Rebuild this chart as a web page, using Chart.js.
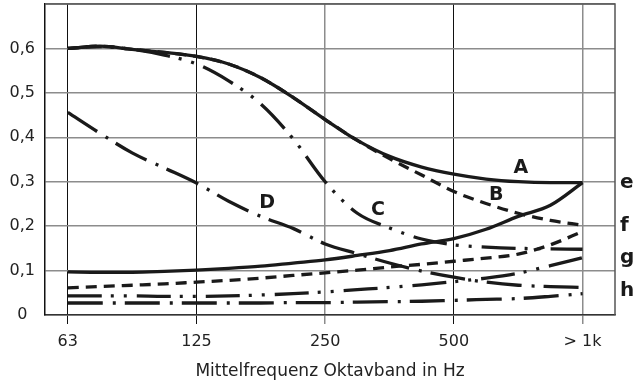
<!DOCTYPE html>
<html>
<head>
<meta charset="utf-8">
<script src="https://cdn.jsdelivr.net/npm/chart.js@4.4.1/dist/chart.umd.min.js"></script>
<style>
  html, body { margin: 0; padding: 0; background: #fff; }
  #wrap { width: 634px; height: 385px; }
</style>
</head>
<body>
<div id="wrap"><canvas id="chart"></canvas></div>
<script>
// octave bands on the x axis (0 = 63 Hz ... 4 = > 1k), read in quarter-band steps
const bandLabels = ["63", "125", "250", "500", "> 1k"];
const steps = [0, 0.25, 0.5, 0.75, 1, 1.25, 1.5, 1.75, 2, 2.25, 2.5, 2.75, 3, 3.25, 3.5, 3.75, 4];
const yTickLabels = ["0", "0,1", "0,2", "0,3", "0,4", "0,5", "0,6", ""];

// absorption curves A - D (porous absorbers)
const curveA = [0.600, 0.605, 0.598, 0.591, 0.582, 0.565, 0.534, 0.490, 0.440, 0.393, 0.357, 0.333, 0.317, 0.306, 0.300, 0.298, 0.298];
const curveB = [0.600, 0.605, 0.598, 0.591, 0.582, 0.565, 0.534, 0.490, 0.440, 0.393, 0.352, 0.315, 0.278, 0.251, 0.229, 0.213, 0.202];
const curveC = [0.600, 0.604, 0.598, 0.585, 0.565, 0.527, 0.475, 0.397, 0.300, 0.229, 0.196, 0.171, 0.158, 0.153, 0.150, 0.149, 0.148];
const curveD = [0.456, 0.409, 0.365, 0.331, 0.297, 0.256, 0.222, 0.195, 0.160, 0.138, 0.117, 0.099, 0.085, 0.074, 0.067, 0.064, 0.062];
// curves e - h
const curveE = [0.097, 0.096, 0.096, 0.098, 0.101, 0.105, 0.110, 0.117, 0.124, 0.134, 0.145, 0.160, 0.172, 0.193, 0.222, 0.247, 0.298];
const curveF = [0.061, 0.064, 0.067, 0.070, 0.074, 0.078, 0.083, 0.089, 0.095, 0.101, 0.108, 0.114, 0.121, 0.128, 0.137, 0.158, 0.188];
const curveG = [0.043, 0.043, 0.043, 0.042, 0.042, 0.043, 0.045, 0.048, 0.052, 0.057, 0.062, 0.068, 0.075, 0.083, 0.094, 0.111, 0.129];
const curveH = [0.027, 0.027, 0.027, 0.027, 0.027, 0.027, 0.027, 0.028, 0.028, 0.029, 0.030, 0.031, 0.033, 0.035, 0.037, 0.042, 0.048];

const ink = "#1a1a1a";
const gridGray = "#8c8c8c";

const longDashTwoDots = [34, 9, 3, 10, 3, 10];
const longDashDot = [35, 10, 3, 9];
const shortDash = [11, 7];

function series(values, dash) {
    return {
        data: steps.map((x, i) => ({ x: x, y: values[i] })),
        borderColor: ink,
        borderWidth: 3.3,
        borderDash: dash,
        borderCapStyle: "butt",
        pointRadius: 0,
        cubicInterpolationMode: "monotone",
        fill: false,
    };
}

// letter labels, placed in axis units
const curveTags = [
    { text: "A", x: 3.52, y: 0.331 },
    { text: "B", x: 3.33, y: 0.271 },
    { text: "C", x: 2.41, y: 0.237 },
    { text: "D", x: 1.55, y: 0.253 },
];
const endTags = [
    { text: "e", y: 0.298 },
    { text: "f", y: 0.200 },
    { text: "g", y: 0.128 },
    { text: "h", y: 0.055 },
];

const tagPlugin = {
    id: "tags",
    beforeDatasetsDraw(chart) {
        const { ctx, chartArea } = chart;
        ctx.save();
        ctx.strokeStyle = "#555";
        ctx.lineWidth = 1.5;
        ctx.beginPath();
        ctx.moveTo(chartArea.left, chartArea.top);
        ctx.lineTo(chartArea.right, chartArea.top);
        ctx.lineTo(chartArea.right, chartArea.bottom);
        ctx.stroke();
        ctx.restore();
    },
    afterDatasetsDraw(chart) {
        const { ctx, chartArea, scales } = chart;
        ctx.save();
        ctx.fillStyle = ink;
        ctx.textAlign = "center";
        ctx.textBaseline = "middle";
        ctx.font = "bold 19px 'DejaVu Sans'";
        curveTags.forEach(t => {
            ctx.fillText(t.text, scales.x.getPixelForValue(t.x), scales.y.getPixelForValue(t.y));
        });
        ctx.font = "bold 20px 'DejaVu Sans'";
        ctx.textAlign = "left";
        endTags.forEach(t => {
            ctx.fillText(t.text, chartArea.right + 5, scales.y.getPixelForValue(t.y));
        });
        ctx.restore();
    }
};

const vGridColors = ["#111", "#111", gridGray, "#111", gridGray];
const vGridWidths = [1, 1, 1.5, 1, 1.5];

new Chart(document.getElementById("chart"), {
    type: "line",
    data: {
        datasets: [
            series(curveA, []),
            series(curveE, []),
            series(curveB, shortDash),
            series(curveC, longDashTwoDots),
            series(curveD, longDashDot),
            series(curveF, shortDash),
            series(curveG, longDashTwoDots),
            series(curveH, longDashDot),
        ],
    },
    options: {
        responsive: true,
        maintainAspectRatio: false,
        animation: false,
        layout: { padding: { top: 4, right: 19, left: 0, bottom: 0 } },
        plugins: {
            legend: { display: false },
            tooltip: { enabled: false },
        },
        scales: {
            x: {
                type: "linear",
                min: -0.177,
                max: 4.252,
                afterBuildTicks: (scale) => {
                    scale.ticks = bandLabels.map((_, i) => ({ value: i }));
                },
                afterFit: (scale) => {
                    scale.height = 70;
                    scale.paddingLeft = 0;
                    scale.paddingRight = 0;
                },
                ticks: {
                    callback: (v, i) => bandLabels[i],
                    color: "#222",
                    font: { family: "'DejaVu Sans'", size: 16 },
                    padding: 8,
                    maxRotation: 0,
                    autoSkip: false,
                },
                grid: {
                    color: (c) => vGridColors[c.index] || gridGray,
                    lineWidth: (c) => vGridWidths[c.index] || 1,
                    drawTicks: true,
                    tickLength: 9,
                },
                border: { color: "#333", width: 1.5 },
                title: {
                    display: true,
                    text: "Mittelfrequenz Oktavband in Hz",
                    color: "#222",
                    font: { family: "'DejaVu Sans'", size: 17 },
                    padding: { top: 4, bottom: 3 },
                },
            },
            y: {
                min: 0,
                max: 0.7,
                afterFit: (scale) => {
                    scale.width = 45;
                    scale.paddingTop = 0;
                    scale.paddingBottom = 0;
                },
                ticks: {
                    stepSize: 0.1,
                    callback: (v, i) => yTickLabels[i],
                    color: "#222",
                    font: { family: "'DejaVu Sans'", size: 16 },
                    crossAlign: "center",
                    padding: 10,
                },
                grid: {
                    color: gridGray,
                    lineWidth: 1.5,
                    drawTicks: false,
                },
                border: { color: "#111", width: 1.5 },
            },
        },
    },
    plugins: [tagPlugin],
});
</script>
</body>
</html>
